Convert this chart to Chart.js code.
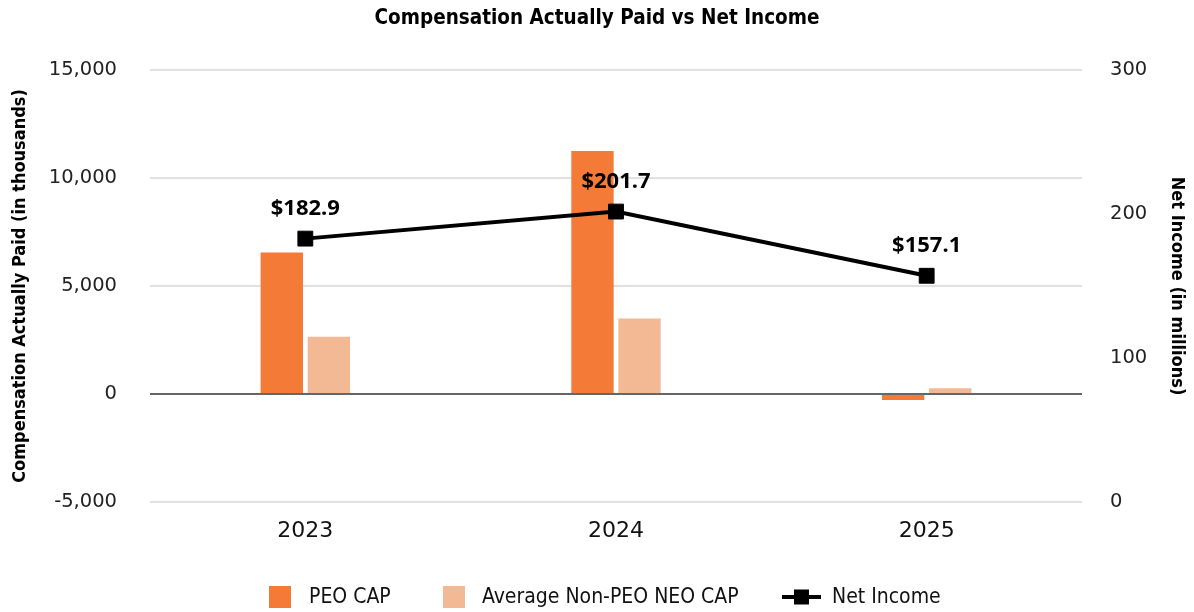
<!DOCTYPE html>
<html>
<head>
<meta charset="utf-8">
<script src="https://cdn.jsdelivr.net/npm/chart.js@4/dist/chart.umd.min.js"></script>
<style>
  html, body { margin: 0; padding: 0; background: #fff; }
  #wrap { width: 1194px; height: 612px; }
</style>
</head>
<body>
<div id="wrap"><canvas id="chart" width="1194" height="612"></canvas></div>
<script>
const years = ['2023', '2024', '2025'];
const peoCap = [6550, 11250, -280];
const nonPeoCap = [2650, 3500, 270];
const netIncome = [182.9, 201.7, 157.1];
const leftTicks = [-5000, 0, 5000, 10000, 15000];
const rightTicks = [0, 100, 200, 300];

const orange = '#f47a38';
const peach = '#f2b994';
const condensed = '"DejaVu Sans Condensed", "DejaVu Sans", sans-serif';
const wide = '"DejaVu Sans", sans-serif';

// title, value labels and legend drawn by hand
const extras = {
    id: 'extras',
    afterDraw(chart) {
        const ctx = chart.ctx;
        ctx.save();
        ctx.fillStyle = '#000';
        ctx.textAlign = 'center';
        ctx.textBaseline = 'middle';
        ctx.font = 'bold 20.5px ' + condensed;
        ctx.fillText('Compensation Actually Paid vs Net Income', 597, 19);

        // net income labels
        ctx.font = 'bold 22px "Noto Sans", sans-serif';
        const meta = chart.getDatasetMeta(2);
        meta.data.forEach((pt, i) => {
            ctx.fillText('$' + netIncome[i].toFixed(1), pt.x, pt.y - 30);
        });

        // legend
        const y = 597;
        ctx.font = '21px ' + condensed;
        ctx.textAlign = 'left';
        ctx.fillStyle = orange;
        ctx.fillRect(269, y - 11, 22, 22);
        ctx.fillStyle = '#111';
        ctx.fillText('PEO CAP', 309, y + 1);
        ctx.fillStyle = peach;
        ctx.fillRect(443, y - 11, 22, 22);
        ctx.fillStyle = '#111';
        ctx.fillText('Average Non-PEO NEO CAP', 482, y + 1);
        ctx.strokeStyle = '#000';
        ctx.lineWidth = 4;
        ctx.beginPath();
        ctx.moveTo(782, y);
        ctx.lineTo(821, y);
        ctx.stroke();
        ctx.fillStyle = '#000';
        ctx.fillRect(794, y - 7.5, 15, 15);
        ctx.fillStyle = '#111';
        ctx.fillText('Net Income', 832, y + 1);
        ctx.restore();
    }
};

new Chart(document.getElementById('chart'), {
    type: 'bar',
    data: {
        labels: years,
        datasets: [
            {
                label: 'PEO CAP',
                data: peoCap,
                backgroundColor: orange,
                yAxisID: 'y',
                order: 2,
                categoryPercentage: 0.303,
                barPercentage: 0.9
            },
            {
                label: 'Average Non-PEO NEO CAP',
                data: nonPeoCap,
                backgroundColor: peach,
                yAxisID: 'y',
                order: 2,
                categoryPercentage: 0.303,
                barPercentage: 0.9
            },
            {
                type: 'line',
                label: 'Net Income',
                data: netIncome,
                yAxisID: 'y1',
                borderColor: '#000',
                borderWidth: 4,
                pointStyle: 'rect',
                pointRadius: 10.5,
                pointBorderWidth: 1,
                pointBackgroundColor: '#000',
                pointBorderColor: '#000',
                order: 1
            }
        ]
    },
    options: {
        responsive: false,
        animation: false,
        layout: { padding: { top: 70, bottom: 0, left: 0, right: 0 } },
        plugins: {
            legend: { display: false },
            title: { display: false },
            tooltip: { enabled: false }
        },
        scales: {
            x: {
                grid: { display: false, drawTicks: false },
                border: { display: false },
                ticks: { color: '#111', font: { family: wide, size: 22 }, padding: 16 },
                afterFit: s => { s.height = 110; }
            },
            y: {
                position: 'left',
                min: -5000,
                max: 15000,
                afterBuildTicks: s => { s.ticks = leftTicks.map(v => ({ value: v })); },
                afterFit: s => { s.width = 150; },
                border: { display: false },
                grid: {
                    drawTicks: false,
                    color: c => c.tick && c.tick.value === 0 ? '#666' : '#e0e0e0',
                    lineWidth: 2
                },
                ticks: {
                    color: '#222',
                    padding: 33,
                    font: { family: wide, size: 19.5 },
                    callback: v => v.toLocaleString('en-US')
                },
                title: {
                    display: true,
                    text: 'Compensation Actually Paid (in thousands)',
                    color: '#000',
                    font: { family: condensed, size: 18, weight: 'bold' },
                    padding: { top: 10, bottom: 0 }
                }
            },
            y1: {
                position: 'right',
                min: 0,
                max: 300,
                afterBuildTicks: s => { s.ticks = rightTicks.map(v => ({ value: v })); },
                afterFit: s => { s.width = 112; },
                border: { display: false },
                grid: { display: false, drawTicks: false },
                ticks: {
                    color: '#222',
                    padding: 28,
                    font: { family: wide, size: 19.5 }
                },
                title: {
                    display: true,
                    text: 'Net Income (in millions)',
                    color: '#000',
                    font: { family: condensed, size: 18, weight: 'bold' },
                    padding: { top: 7, bottom: 0 }
                }
            }
        }
    },
    plugins: [extras]
});
</script>
</body>
</html>
